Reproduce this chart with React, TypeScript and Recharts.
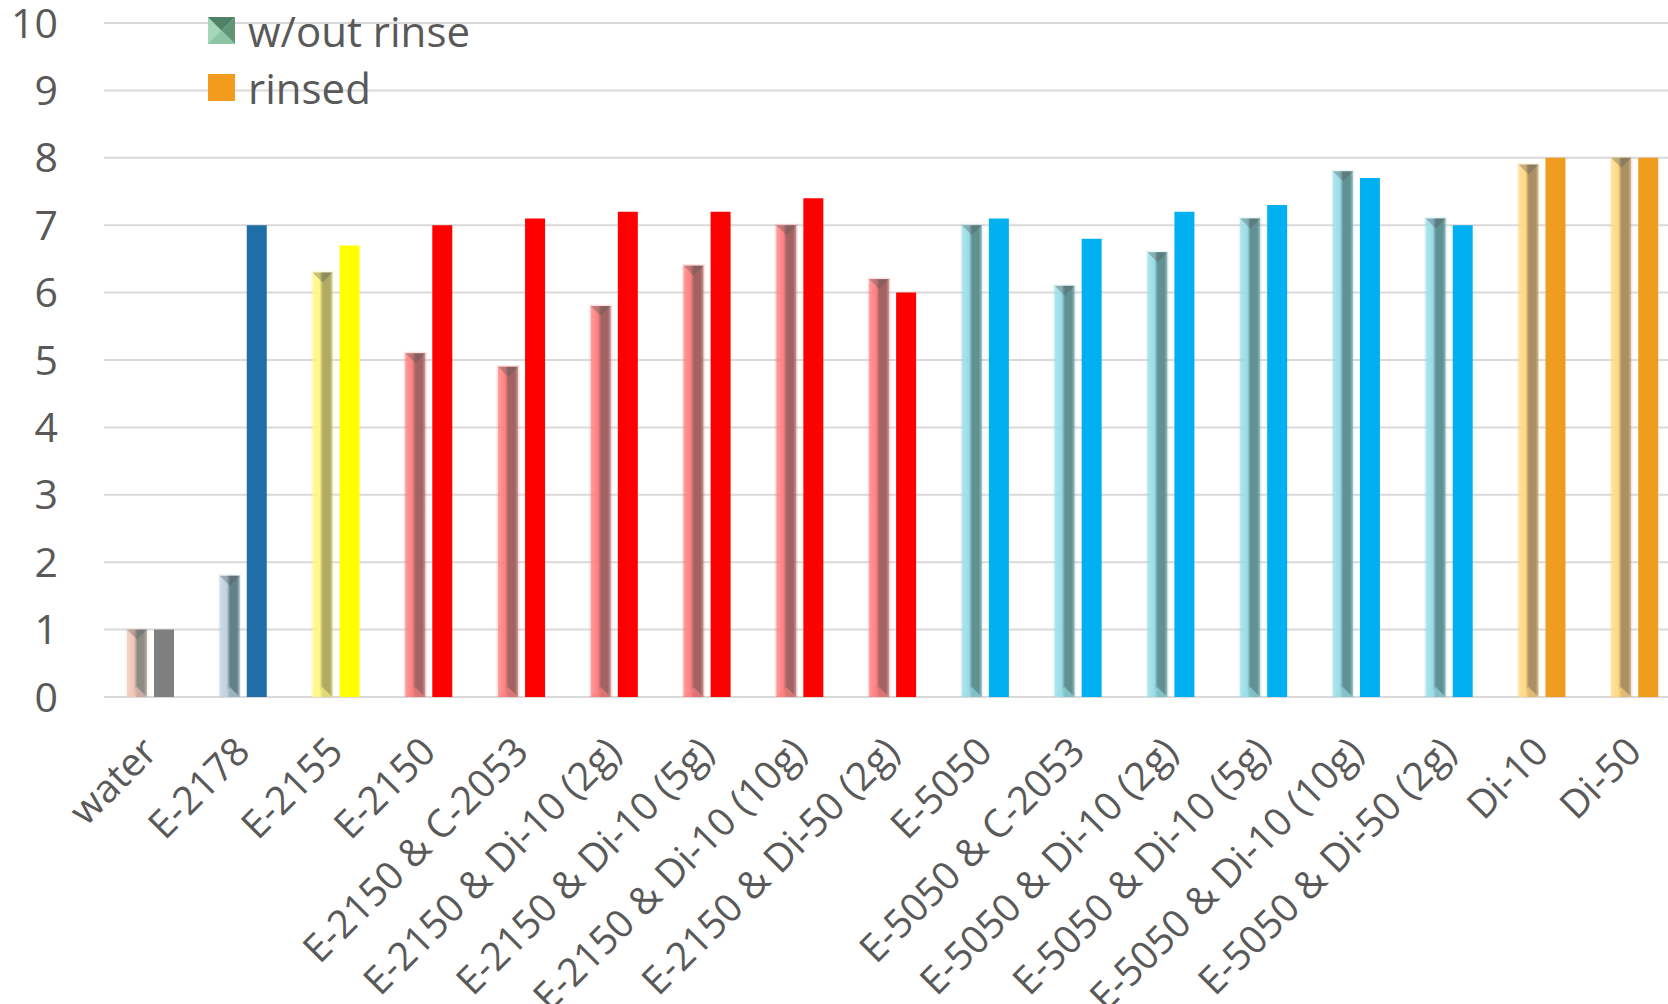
import React from 'react';
import { BarChart, Bar, XAxis, YAxis, CartesianGrid, Cell } from 'recharts';

const categories = [
  'water',
  'E-2178',
  'E-2155',
  'E-2150',
  'E-2150 & C-2053',
  'E-2150 & Di-10 (2g)',
  'E-2150 & Di-10 (5g)',
  'E-2150 & Di-10 (10g)',
  'E-2150 & Di-50 (2g)',
  'E-5050',
  'E-5050 & C-2053',
  'E-5050 & Di-10 (2g)',
  'E-5050 & Di-10 (5g)',
  'E-5050 & Di-10 (10g)',
  'E-5050 & Di-50 (2g)',
  'Di-10',
  'Di-50',
];

const withoutRinse = [1.0, 1.8, 6.3, 5.1, 4.9, 5.8, 6.4, 7.0, 6.2, 7.0, 6.1, 6.6, 7.1, 7.8, 7.1, 7.9, 8.0];
const rinsed = [1.0, 7.0, 6.7, 7.0, 7.1, 7.2, 7.2, 7.4, 6.0, 7.1, 6.8, 7.2, 7.3, 7.7, 7.0, 8.0, 8.0];

const yTicks = [0, 1, 2, 3, 4, 5, 6, 7, 8, 9, 10];

const FONT = "'Open Sans', sans-serif";
const TEXT = '#595959';
const GRID = '#d9d9d9';

type Palette = { solid: string; light: string; dark: string };

const palettes: Record<string, Palette> = {
  water: { solid: '#7f7f7f', light: '#f2c6b8', dark: '#8c8c85' },
  e2178: { solid: '#1f6ea8', light: '#bfd2de', dark: '#62828b' },
  e2155: { solid: '#ffff00', light: '#fff683', dark: '#b0ab62' },
  e2150: { solid: '#ff0000', light: '#ff8080', dark: '#a36464' },
  e5050: { solid: '#00b0f0', light: '#9adde7', dark: '#609193' },
  di: { solid: '#f09c1e', light: '#ffd883', dark: '#ab9062' },
};

const paletteFor = (name: string): Palette => {
  if (name === 'water') return palettes.water;
  if (name === 'E-2178') return palettes.e2178;
  if (name === 'E-2155') return palettes.e2155;
  if (name.startsWith('E-2150')) return palettes.e2150;
  if (name.startsWith('E-5050')) return palettes.e5050;
  return palettes.di;
};

const data = categories.map((name, i) => ({
  name,
  withoutRinse: withoutRinse[i],
  rinsed: rinsed[i],
}));

// soft bevelled bar used for the "w/out rinse" series
const BevelBar = (props: any) => {
  const { x, y, width: w, height: h, index, payload } = props;
  if (!h || h <= 0) return null;
  const pal = paletteFor(payload.name);
  const gid = `bevel-grad-${index}`;
  const fid = `bevel-soft-${index}`;
  const tip = Math.min(w * 0.5, h / 2);
  return (
    <g>
      <defs>
        <linearGradient id={gid} x1="0" y1="0" x2="1" y2="0">
          <stop offset="0" stopColor={pal.light} stopOpacity={0.7} />
          <stop offset="0.35" stopColor={pal.light} />
          <stop offset="0.52" stopColor={pal.dark} />
          <stop offset="0.85" stopColor={pal.dark} />
          <stop offset="1" stopColor={pal.dark} stopOpacity={0.55} />
        </linearGradient>
        <filter id={fid} x="-30%" y="-5%" width="160%" height="110%">
          <feGaussianBlur stdDeviation="0.6" />
        </filter>
      </defs>
      <rect x={x - 1.5} y={y - 1.5} width={w + 3} height={h + 1.5} fill={pal.light} opacity={0.25} />
      <g filter={`url(#${fid})`}>
        <rect x={x} y={y} width={w} height={h} fill={`url(#${gid})`} />
        <polygon points={`${x},${y} ${x + w},${y} ${x + w / 2},${y + tip}`} fill="#555" opacity={0.35} />
        <polygon points={`${x},${y + h} ${x + w},${y + h} ${x + w / 2},${y + h - tip}`} fill={pal.light} opacity={0.6} />
      </g>
    </g>
  );
};

const CategoryTick = (props: any) => {
  const { x, y, payload } = props;
  const tx = x + 9;
  const ty = y + 57;
  return (
    <text
      x={tx}
      y={ty}
      transform={`rotate(-45, ${tx}, ${ty})`}
      textAnchor="end"
      fill={TEXT}
      fontSize={39}
      fontFamily={FONT}
    >
      {payload.value}
    </text>
  );
};

const LegendIcon = ({ bevel }: { bevel: boolean }) => (
  <svg width={27} height={27} style={{ display: 'block' }}>
    {bevel ? (
      <g>
        <rect x={0} y={0} width={27} height={27} fill="#a6d6ba" />
        <polygon points="0,0 27,0 13.5,13.5" fill="#4f8166" />
        <polygon points="27,0 27,27 13.5,13.5" fill="#5f9677" />
        <polygon points="0,27 27,27 13.5,13.5" fill="#8cc4a4" />
      </g>
    ) : (
      <rect x={0} y={0} width={27} height={27} fill="#f29b1c" />
    )}
  </svg>
);

const legendItems = [
  { label: 'w/out rinse', bevel: true },
  { label: 'rinsed', bevel: false },
];

export default function App() {
  return (
    <div style={{ position: 'relative', width: 1668, height: 1004, overflow: 'hidden', background: '#fff' }}>
      <style>{'body{margin:0}'}</style>
      <BarChart
        width={1690}
        height={1004}
        data={data}
        margin={{ top: 23, right: 9, left: 0, bottom: 0 }}
        barSize={20}
        barGap={7}
      >
        <CartesianGrid vertical={false} stroke={GRID} strokeWidth={2} />
        <XAxis
          dataKey="name"
          interval={0}
          axisLine={false}
          tickLine={false}
          tickSize={0}
          tickMargin={0}
          height={307}
          tick={(p: any) => <CategoryTick {...p} />}
        />
        <YAxis
          domain={[0, 10]}
          ticks={yTicks}
          interval={0}
          axisLine={false}
          tickLine={false}
          tickSize={0}
          tickMargin={46}
          width={104}
          tick={{ fill: TEXT, fontSize: 41, fontFamily: FONT }}
        />
        <Bar dataKey="withoutRinse" name="w/out rinse" isAnimationActive={false} shape={(p: any) => <BevelBar {...p} />} />
        <Bar dataKey="rinsed" name="rinsed" isAnimationActive={false}>
          {data.map((d, i) => (
            <Cell key={`rinsed-${i}`} fill={paletteFor(d.name).solid} />
          ))}
        </Bar>
      </BarChart>
      <div style={{ position: 'absolute', left: 208, top: 2, fontFamily: FONT, fontSize: 42, color: TEXT }}>
        {legendItems.map((item) => (
          <div key={item.label} style={{ display: 'flex', alignItems: 'center', height: 57 }}>
            <LegendIcon bevel={item.bevel} />
            <span style={{ marginLeft: 13, lineHeight: '57px' }}>{item.label}</span>
          </div>
        ))}
      </div>
    </div>
  );
}
